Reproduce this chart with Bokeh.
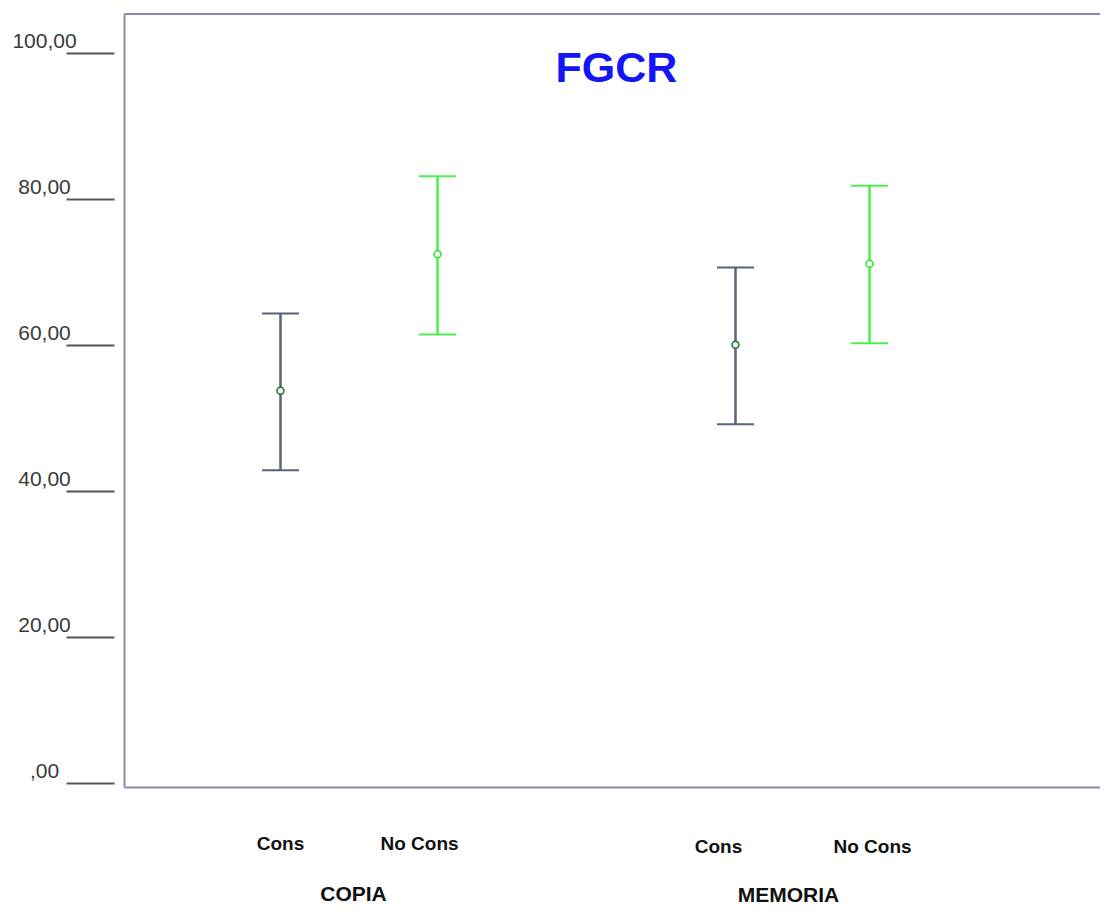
from bokeh.plotting import figure
from bokeh.models import ColumnDataSource, Range1d, Whisker, TeeHead
from bokeh.core.properties import value
from bokeh.embed import file_html
from bokeh.resources import INLINE

# ---------------- data ----------------
groups = ["COPIA", "COPIA", "MEMORIA", "MEMORIA"]
conditions = ["Cons", "No Cons", "Cons", "No Cons"]
means = [53.8, 72.5, 60.1, 71.2]
lower = [42.9, 61.5, 49.2, 60.3]
upper = [64.4, 83.2, 70.7, 81.9]
y_ticks = [0, 20, 40, 60, 80, 100]
y_tick_labels = [",00", "20,00", "40,00", "60,00", "80,00", "100,00"]
group_names = ["COPIA", "MEMORIA"]
title_text = "FGCR"

# ---------------- layout ----------------
W, H = 1100, 907
PX_X = 100.0          # px per x unit
PX_Y = 7.3            # px per y unit
ORIG_X = 124          # px of x = 0 (left frame line)
ORIG_Y = 783          # px of y = 0
bar_x = [1.56, 3.13, 6.11, 7.45]
cond_label_x = [1.56, 2.95, 5.94, 7.48]
cond_label_drop = [60, 60, 63, 63]     # px below zero line
group_label_x = [2.29, 6.64]
group_label_drop = [110, 111]
X0, X1 = -ORIG_X / PX_X, (W - ORIG_X) / PX_X
Y0, Y1 = -(H - ORIG_Y) / PX_Y, ORIG_Y / PX_Y
Y_TOP = (ORIG_Y - 13.5) / PX_Y
Y_BOT = (ORIG_Y - 787) / PX_Y

p = figure(width=W, height=H, output_backend="svg", toolbar_location=None,
           x_range=Range1d(X0, X1), y_range=Range1d(Y0, Y1),
           x_axis_location=None, y_axis_location=None,
           min_border=0, tools="")
p.outline_line_color = None
p.xgrid.visible = False
p.ygrid.visible = False
p.background_fill_color = "white"
p.border_fill_color = "white"

frame_col = "#8a8aa8"
# frame lines (top, left, bottom)
p.segment(x0=[0, 0, 0], y0=[Y_TOP, Y_BOT, Y_BOT], x1=[X1, 0, X1], y1=[Y_TOP, Y_TOP, Y_BOT],
          line_color=frame_col, line_width=2)

# y tick lines and labels
tick_x0 = (66 - ORIG_X) / PX_X
tick_x1 = (114 - ORIG_X) / PX_X
p.segment(x0=[tick_x0] * len(y_ticks), x1=[tick_x1] * len(y_ticks),
          y0=y_ticks, y1=y_ticks, line_color="#555555", line_width=2)
lift = 13 / PX_Y
p.text(x=[(44 - ORIG_X) / PX_X] * len(y_ticks), y=[t + lift for t in y_ticks], text=y_tick_labels,
       text_font=value("Liberation Sans"), text_font_size="21px", text_color="#3a3a3a",
       text_align="center", text_baseline="middle")

# error bars
cons_col = "#56637a"
nocons_col = "#4cf04c"
for cond, col, mk_line, mk_fill in [("Cons", cons_col, "#2f6a35", "#eef6ee"),
                                     ("No Cons", nocons_col, "#2ee62e", "#ffffff")]:
    idx = [i for i, c in enumerate(conditions) if c == cond]
    src = ColumnDataSource(dict(x=[bar_x[i] for i in idx],
                                m=[means[i] for i in idx],
                                lo=[lower[i] for i in idx],
                                up=[upper[i] for i in idx]))
    w = Whisker(source=src, base="x", lower="lo", upper="up", dimension="height",
                line_color=col, line_width=2.5, level="underlay",
                upper_head=TeeHead(size=37, line_color=col, line_width=2),
                lower_head=TeeHead(size=37, line_color=col, line_width=2))
    p.add_layout(w)
    p.scatter(x="x", y="m", source=src, marker="circle", size=7,
              line_color=mk_line, fill_color=mk_fill, line_width=1.5)

# category labels
p.text(x=cond_label_x, y=[-d / PX_Y for d in cond_label_drop], text=conditions,
       text_font=value("Liberation Sans"), text_font_style="bold", text_font_size="19px",
       text_color="#111111", text_align="center", text_baseline="middle")
p.text(x=group_label_x, y=[-d / PX_Y for d in group_label_drop], text=group_names,
       text_font=value("Liberation Sans"), text_font_style="bold", text_font_size="21px",
       text_color="#111111", text_align="center", text_baseline="middle")

# title
p.text(x=[(616 - ORIG_X) / PX_X], y=[(ORIG_Y - 66) / PX_Y], text=[title_text],
       text_font=value("Liberation Sans"), text_font_style="bold", text_font_size="43px",
       text_color="#1414f5", text_align="center", text_baseline="middle")

open("out.html", "w").write(file_html(p, INLINE))
